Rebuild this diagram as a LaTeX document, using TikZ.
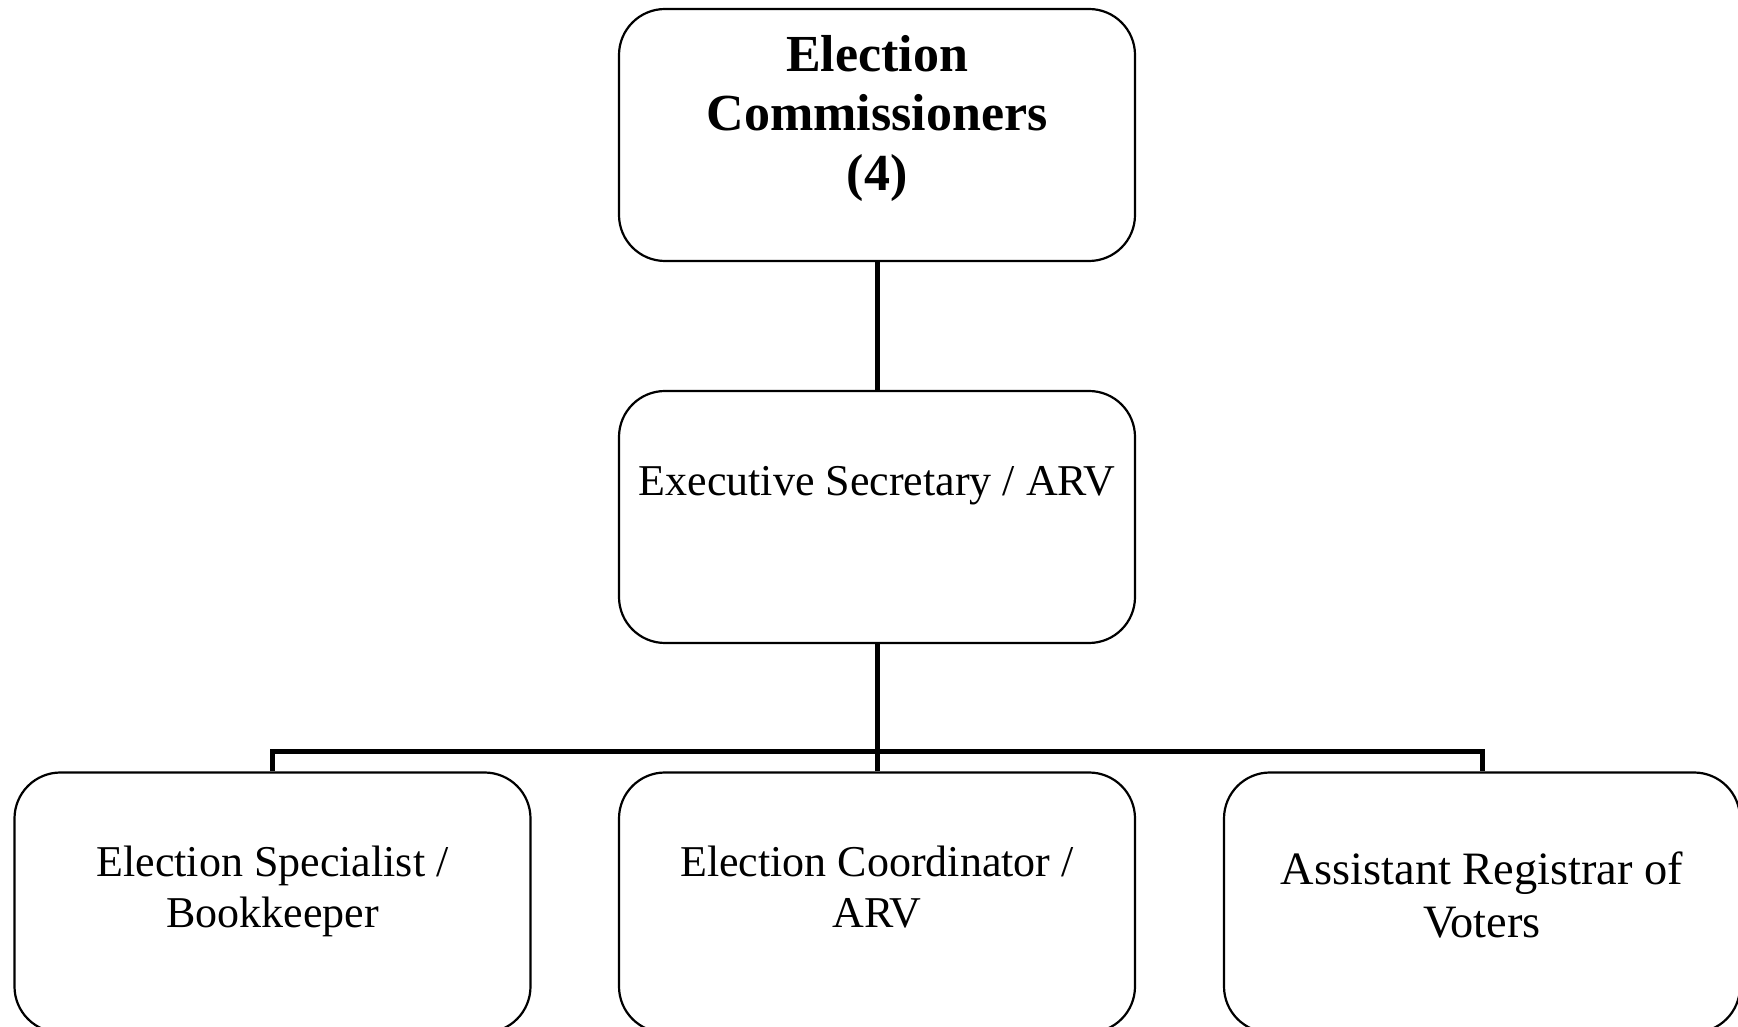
\documentclass[tikz,border=0pt]{standalone}
\usepackage{fontspec}
\setmainfont{Liberation Serif}
\begin{document}
\begin{tikzpicture}[x=1pt,y=1pt,
  box/.style={draw=black,line width=2.2pt,rounded corners=46pt,minimum width=516pt,minimum height=252pt,inner sep=0pt},
  lowbox/.style={box,minimum height=260pt},
  lbl/.style={anchor=north,inner sep=0pt,align=center,font=\fontsize{44}{51}\selectfont},
  conn/.style={draw=black,line width=5pt}]
\useasboundingbox (0,0) rectangle (1738,1026);
\node[box] (top) at (877,891) {};
\node[box] (mid) at (877,509) {};
\node[lowbox] (bl) at (272.5,123.5) {};
\node[lowbox] (bm) at (877,123.5) {};
\node[lowbox] (br) at (1482,123.5) {};
\coordinate (bus) at (877,274.5);
\draw[conn] (top.south) -- (mid.north);
\draw[conn] (mid.south) -- (bus);
\draw[conn] (bl.north) |- (bus) -| (br.north);
\draw[conn] (bus) -- (bm.north);
\node[lbl,font=\fontsize{52}{59.5}\selectfont\bfseries] (ttop) at (877,991) {Election\\Commissioners\\(4)};
\node[lbl] (tmid) at (877,559.4) {Executive Secretary / ARV};
\node[lbl] (tbl) at (272.5,180.4) {Election Specialist /\\Bookkeeper};
\node[lbl] (tbm) at (877,180.4) {Election Coordinator /\\ARV};
\node[lbl,font=\fontsize{46.4}{53.5}\selectfont] (tbr) at (1482,174.7) {Assistant Registrar of\\Voters};
\end{tikzpicture}
\end{document}
